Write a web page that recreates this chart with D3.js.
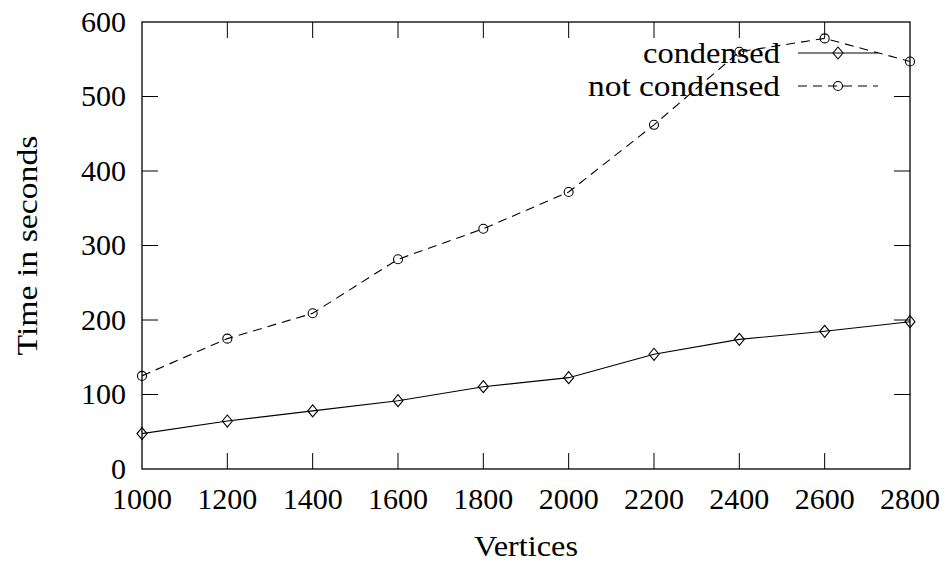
<!DOCTYPE html>
<html><head><meta charset="utf-8">
<script src="https://cdn.jsdelivr.net/npm/d3@7"></script>
<style>body{margin:0;background:#fff}svg{display:block}</style>
</head><body>
<svg id="chart" width="952" height="565"></svg>
<script>
const vertices = [1000,1200,1400,1600,1800,2000,2200,2400,2600,2800];
const condensed = [47.5,64.4,78,91.7,110.5,122.6,154,174,184.8,197.7];
const notCondensed = [125,175,209,281.5,322.5,371.8,462,560,578,547];
const xTicks = [1000,1200,1400,1600,1800,2000,2200,2400,2600,2800];
const yTicks = [0,100,200,300,400,500,600];
const seriesNames = ["condensed","not condensed"];

const FONT = "Liberation Serif";
const FS = 30;
const svg = d3.select("#chart").attr("font-family",FONT);
const L=142,R=910,T=22,B=469;
const x = d3.scaleLinear().domain([1000,2800]).range([L,R]);
const y = d3.scaleLinear().domain([0,600]).range([B,T]);
const tick=16;

const g = svg.append("g");
xTicks.forEach(v=>{
  if(v===1000||v===2800) return;
  g.append("line").attr("x1",x(v)).attr("x2",x(v)).attr("y1",B).attr("y2",B-tick).attr("stroke","#000").attr("stroke-width",1);
  g.append("line").attr("x1",x(v)).attr("x2",x(v)).attr("y1",T).attr("y2",T+tick).attr("stroke","#000").attr("stroke-width",1);
});
yTicks.forEach(v=>{
  if(v===0||v===600) return;
  g.append("line").attr("x1",L).attr("x2",L+tick).attr("y1",y(v)).attr("y2",y(v)).attr("stroke","#000").attr("stroke-width",1);
  g.append("line").attr("x1",R).attr("x2",R-tick).attr("y1",y(v)).attr("y2",y(v)).attr("stroke","#000").attr("stroke-width",1);
});
g.append("rect").attr("x",L).attr("y",T).attr("width",R-L).attr("height",B-T).attr("fill","none").attr("stroke","#000").attr("stroke-width",1.3);

xTicks.forEach(v=>{
  g.append("text").attr("font-family",FONT).attr("x",x(v)).attr("y",509).attr("text-anchor","middle").attr("font-size",FS).text(v);
});
yTicks.forEach(v=>{
  g.append("text").attr("font-family",FONT).attr("x",126).attr("y",y(v)).attr("dy","0.33em").attr("text-anchor","end").attr("font-size",FS).text(v);
});
g.append("text").attr("font-family",FONT).attr("x",(L+R)/2).attr("y",556).attr("text-anchor","middle").attr("font-size",FS)
  .attr("textLength",104).attr("lengthAdjust","spacingAndGlyphs").text("Vertices");
g.append("text").attr("font-family",FONT).attr("transform",`translate(37,${(T+B)/2}) rotate(-90)`).attr("text-anchor","middle").attr("font-size",FS)
  .attr("textLength",220).attr("lengthAdjust","spacingAndGlyphs").text("Time in seconds");

const line = d3.line().x((d,i)=>x(vertices[i])).y(d=>y(d));
const diamond = (cx,cy)=>`M${cx},${cy-6}L${cx+5},${cy}L${cx},${cy+6}L${cx-5},${cy}Z`;

g.append("path").datum(condensed).attr("d",line).attr("fill","none").attr("stroke","#000").attr("stroke-width",1.1);
g.selectAll(".dia").data(condensed).enter().append("path")
  .attr("d",(d,i)=>diamond(x(vertices[i]),y(d))).attr("fill","none").attr("stroke","#000").attr("stroke-width",1.1);
g.append("path").datum(notCondensed).attr("d",line).attr("fill","none").attr("stroke","#000").attr("stroke-width",1.1).attr("stroke-dasharray","9,6");
g.selectAll(".circ").data(notCondensed).enter().append("circle")
  .attr("cx",(d,i)=>x(vertices[i])).attr("cy",d=>y(d)).attr("r",4.5).attr("fill","none").attr("stroke","#000").attr("stroke-width",1.1);

const lg = svg.append("g");
const ly=[53,86], lw=[137,192];
seriesNames.forEach((n,i)=>{
  lg.append("text").attr("font-family",FONT).attr("x",780).attr("y",ly[i]).attr("dy","0.32em").attr("text-anchor","end").attr("font-size",FS)
    .attr("textLength",lw[i]).attr("lengthAdjust","spacingAndGlyphs").text(n);
  const ln = lg.append("line").attr("x1",798).attr("x2",878).attr("y1",ly[i]).attr("y2",ly[i]).attr("stroke","#000").attr("stroke-width",1.1);
  if(i===1){ ln.attr("stroke-dasharray","9,6"); lg.append("circle").attr("cx",838).attr("cy",ly[i]).attr("r",4.5).attr("fill","none").attr("stroke","#000").attr("stroke-width",1.1); }
  else lg.append("path").attr("d",diamond(838,ly[i])).attr("fill","none").attr("stroke","#000").attr("stroke-width",1.1);
});
</script>
</body></html>
